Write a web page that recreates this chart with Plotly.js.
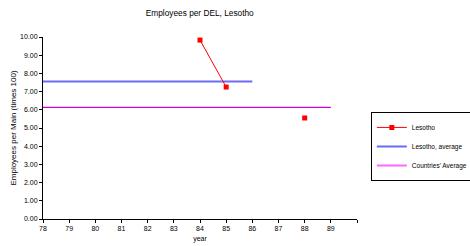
<!DOCTYPE html>
<html><head><meta charset="utf-8">
<script src="https://cdn.plot.ly/plotly-3.0.1.min.js"></script>
<style>html,body{margin:0;padding:0;background:#fff;}#chart{width:470px;height:246px;}</style>
</head><body><div id="chart"></div>
<script>
const years = [78, 79, 80, 81, 82, 83, 84, 85, 86, 87, 88, 89];
const lesotho = [null, null, null, null, null, null, 9.83, 7.25, null, null, 5.55, null];
const avgYears = [78, 79, 80, 81, 82, 83, 84, 85, 86];
const lesothoAvg = [7.55, 7.55, 7.55, 7.55, 7.55, 7.55, 7.55, 7.55, 7.55];
const countriesYears = [78, 79, 80, 81, 82, 83, 84, 85, 86, 87, 88, 89];
const countriesAvg = [6.13, 6.13, 6.13, 6.13, 6.13, 6.13, 6.13, 6.13, 6.13, 6.13, 6.13, 6.13];
const xTickVals = [78, 79, 80, 81, 82, 83, 84, 85, 86, 87, 88, 89, 90];
const xTickText = ['78', '79', '80', '81', '82', '83', '84', '85', '86', '87', '88', '89', ''];

const traces = [
  {x: avgYears, y: lesothoAvg, mode: 'lines', name: 'Lesotho, average',
   line: {color: '#6b6bf5', width: 2}},
  {x: countriesYears, y: countriesAvg, mode: 'lines', name: "Countries' Average",
   line: {color: '#d000d0', width: 1.2}, showlegend: false},
  {x: years, y: lesotho, mode: 'lines+markers', name: 'Lesotho',
   line: {color: '#ff0000', width: 1}, marker: {symbol: 'square', size: 5, color: '#ff0000'},
   connectgaps: false},
  {x: [null], y: [null], mode: 'lines', name: "Countries' Average",
   line: {color: '#ff66ff', width: 2}}
];

const layout = {
  width: 470, height: 246,
  margin: {l: 43, r: 113, t: 37, b: 27},
  paper_bgcolor: '#fff', plot_bgcolor: '#fff',
  font: {family: 'Liberation Sans, Arial, sans-serif', size: 7, color: '#000'},
  title: {text: 'Employees per DEL, Lesotho', font: {size: 8.3}, x: 0.425, xanchor: 'center', y: 0.945, yanchor: 'middle'},
  xaxis: {range: [78, 90], tickvals: xTickVals, ticktext: xTickText, showgrid: false, zeroline: false,
          showline: true, linecolor: '#000', linewidth: 1, ticks: 'outside', ticklen: 3, tickcolor: '#000',
          title: {text: 'year', font: {size: 7}, standoff: 4}},
  yaxis: {range: [0, 10], dtick: 1, tickformat: '.2f', showgrid: false, zeroline: false,
          showline: true, linecolor: '#000', linewidth: 1, ticks: 'outside', ticklen: 3, tickcolor: '#000',
          title: {text: 'Employees per Main (times 100)', font: {size: 8}, standoff: 2}},
  showlegend: true,
  legend: {xref: 'container', yref: 'container', x: 0.789, y: 0.545, xanchor: 'left', yanchor: 'top',
           bordercolor: '#000', borderwidth: 1, bgcolor: '#fff', font: {size: 6.5},
           traceorder: 'normal', itemwidth: 30, tracegroupgap: 0},
};
traces[2].legendrank = 1; traces[0].legendrank = 2; traces[3].legendrank = 3;
Plotly.newPlot('chart', traces, layout, {displayModeBar: false, staticPlot: true});
</script></body></html>
